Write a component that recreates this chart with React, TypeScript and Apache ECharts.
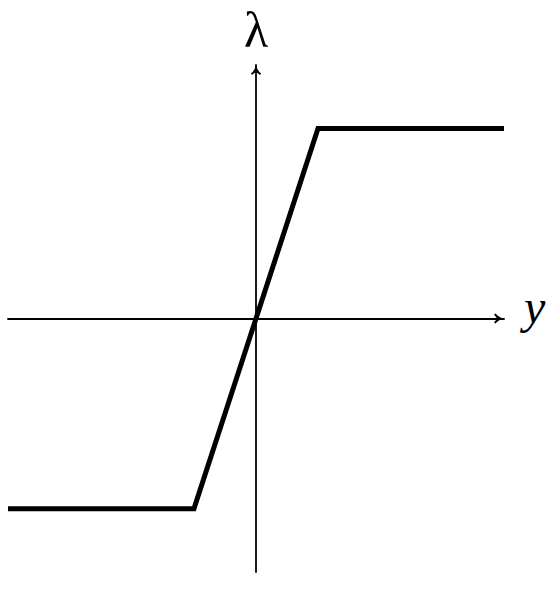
import React, { useEffect, useRef } from 'react';
import * as echarts from 'echarts';

// saturation curve: lambda as a function of y
const yValues = [-4, -1, 1, 4];
const lambdaValues = [-3, -3, 3, 3];

const axisMin = -4;
const axisMax = 4;
const xName = 'y';
const yName = 'λ';

// LaTeX-like "->" arrow head, tip pointing up
const arrowPath =
  'path://M5 0 C5.4 3 7.4 6.4 10 8.6 L9 10 C7.4 8.5 6 7.6 5 7.3 C4 7.6 2.6 8.5 1 10 L0 8.6 C2.6 6.4 4.6 3 5 0 Z';

const App: React.FC = () => {
  const chartRef = useRef<HTMLDivElement>(null);

  useEffect(() => {
    if (!chartRef.current) return;
    const chart = echarts.init(chartRef.current, undefined, { renderer: 'svg' });

    const axisLine = {
      show: true,
      onZero: true,
      symbol: ['none', arrowPath],
      symbolSize: [12, 10],
      symbolOffset: [0, -5],
      lineStyle: { color: '#000', width: 1.8 }
    };

    const option: echarts.EChartsOption = {
      animation: false,
      backgroundColor: '#fff',
      grid: {
        left: 8,
        top: 65,
        width: 496,
        height: 507,
        outerBoundsMode: 'none'
      } as any,
      xAxis: {
        type: 'value',
        min: axisMin,
        max: axisMax,
        name: xName,
        nameLocation: 'end',
        nameGap: 20,
        nameTextStyle: {
          fontFamily: 'Liberation Serif',
          fontStyle: 'italic',
          fontSize: 48,
          lineHeight: 24,
          color: '#000',
          verticalAlign: 'bottom'
        },
        axisLine,
        axisTick: { show: false },
        axisLabel: { show: false },
        splitLine: { show: false }
      },
      yAxis: {
        type: 'value',
        min: axisMin,
        max: axisMax,
        name: yName,
        nameLocation: 'end',
        nameGap: 10,
        nameTextStyle: {
          fontFamily: 'Liberation Serif',
          fontSize: 50,
          color: '#000',
          align: 'center'
        },
        axisLine,
        axisTick: { show: false },
        axisLabel: { show: false },
        splitLine: { show: false }
      },
      series: [
        {
          type: 'line',
          data: yValues.map((v, i) => [v, lambdaValues[i]]),
          showSymbol: false,
          symbol: 'none',
          lineStyle: { color: '#000', width: 5, join: 'miter' } as any,
          z: 3
        }
      ]
    };

    chart.setOption(option);
    return () => {
      chart.dispose();
    };
  }, []);

  return (
    <div
      ref={chartRef}
      style={{ position: 'fixed', left: 0, top: 0, width: 551, height: 591 }}
    />
  );
};

export default App;
